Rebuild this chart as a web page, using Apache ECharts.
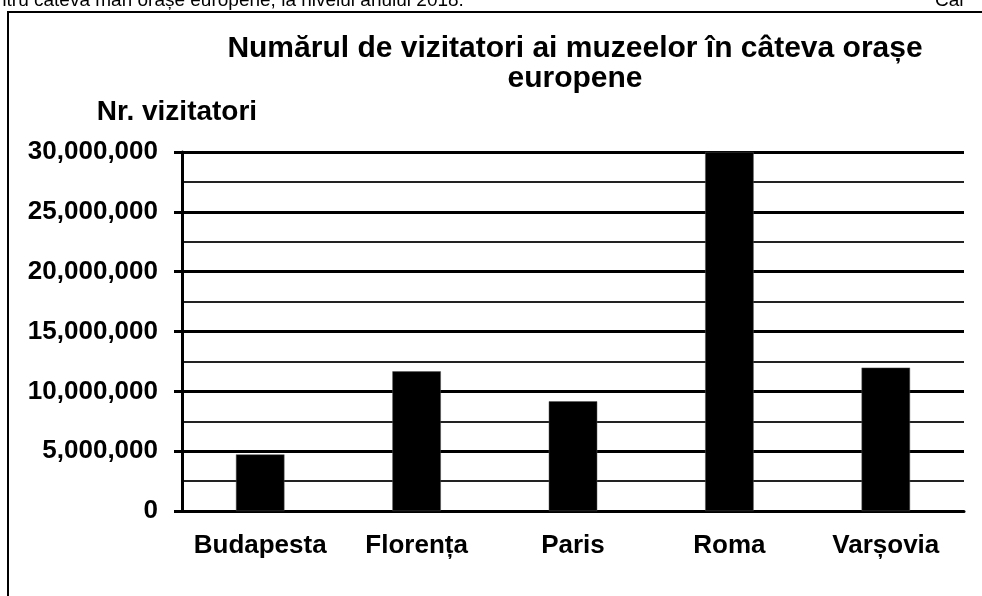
<!DOCTYPE html>
<html>
<head>
<meta charset="utf-8">
<script src="https://cdn.jsdelivr.net/npm/echarts@6/dist/echarts.min.js"></script>
<style>
  html, body { margin: 0; padding: 0; background: #fff; }
  #chart { width: 982px; height: 596px; }
</style>
</head>
<body>
<div id="chart"></div>
<script>
// orase si numarul de vizitatori
var cities = ['Budapesta', 'Florența', 'Paris', 'Roma', 'Varșovia'];
var visitors = [4730000, 11670000, 9170000, 30000000, 11980000];
var yMin = 0, yMax = 30000000, yStep = 5000000;

var font = '"Liberation Sans", Arial, sans-serif';

function fmt(v) {
    return String(v).replace(/\B(?=(\d{3})+(?!\d))/g, ',');
}

var chart = echarts.init(document.getElementById('chart'));
var option = {
    animation: false,
    backgroundColor: '#fff',
    title: {
        text: 'Numărul de vizitatori ai muzeelor în câteva orașe\neuropene',
        left: 570,
        top: 29,
        textAlign: 'center',
        textStyle: {
            fontFamily: font,
            fontSize: 30,
            fontWeight: 'bold',
            color: '#000',
            lineHeight: 30
        }
    },
    grid: {
        left: 182,
        right: 18,
        top: 152,
        bottom: 85
    },
    xAxis: {
        type: 'category',
        data: cities,
        axisLine: { lineStyle: { color: '#000', width: 3 } },
        axisTick: { show: false },
        axisLabel: {
            interval: 0,
            margin: 22,
            fontFamily: font,
            fontSize: 26,
            fontWeight: 'bold',
            color: '#000'
        }
    },
    yAxis: {
        type: 'value',
        min: yMin,
        max: yMax,
        interval: yStep,
        name: 'Nr. vizitatori',
        nameLocation: 'end',
        nameGap: 26,
        nameTextStyle: {
            fontFamily: font,
            fontSize: 28,
            fontWeight: 'bold',
            color: '#000',
            padding: [0, 10, 0, 0]
        },
        axisLine: { show: true, lineStyle: { color: '#000', width: 3 } },
        axisTick: { show: true, length: 8, lineStyle: { color: '#000', width: 3 } },
        axisLabel: {
            margin: 24,
            formatter: fmt,
            fontFamily: font,
            fontSize: 26,
            fontWeight: 'bold',
            color: '#000'
        },
        splitLine: { show: true, lineStyle: { color: '#000', width: 3 } },
        minorTick: { show: false, splitNumber: 2 },
        minorSplitLine: { show: true, lineStyle: { color: '#222', width: 2 } }
    },
    series: [{
        type: 'bar',
        data: visitors,
        barWidth: '31%',
        itemStyle: { color: '#000', borderColor: '#555', borderWidth: 0.5 }
    }],
    graphic: [
        {
            type: 'rect',
            shape: { x: 8, y: 12, width: 1000, height: 620 },
            style: { fill: null, stroke: '#000', lineWidth: 2 },
            z: -1
        },
        {
            type: 'text',
            left: -4,
            top: -9,
            style: {
                text: 'ntru câteva mari orașe europene, la nivelul anului 2018.',
                font: '19px ' + font,
                fill: '#000'
            }
        },
        {
            type: 'text',
            left: 935,
            top: -9,
            style: {
                text: 'Car',
                font: '19px ' + font,
                fill: '#000'
            }
        }
    ]
};
chart.setOption(option);
</script>
</body>
</html>
